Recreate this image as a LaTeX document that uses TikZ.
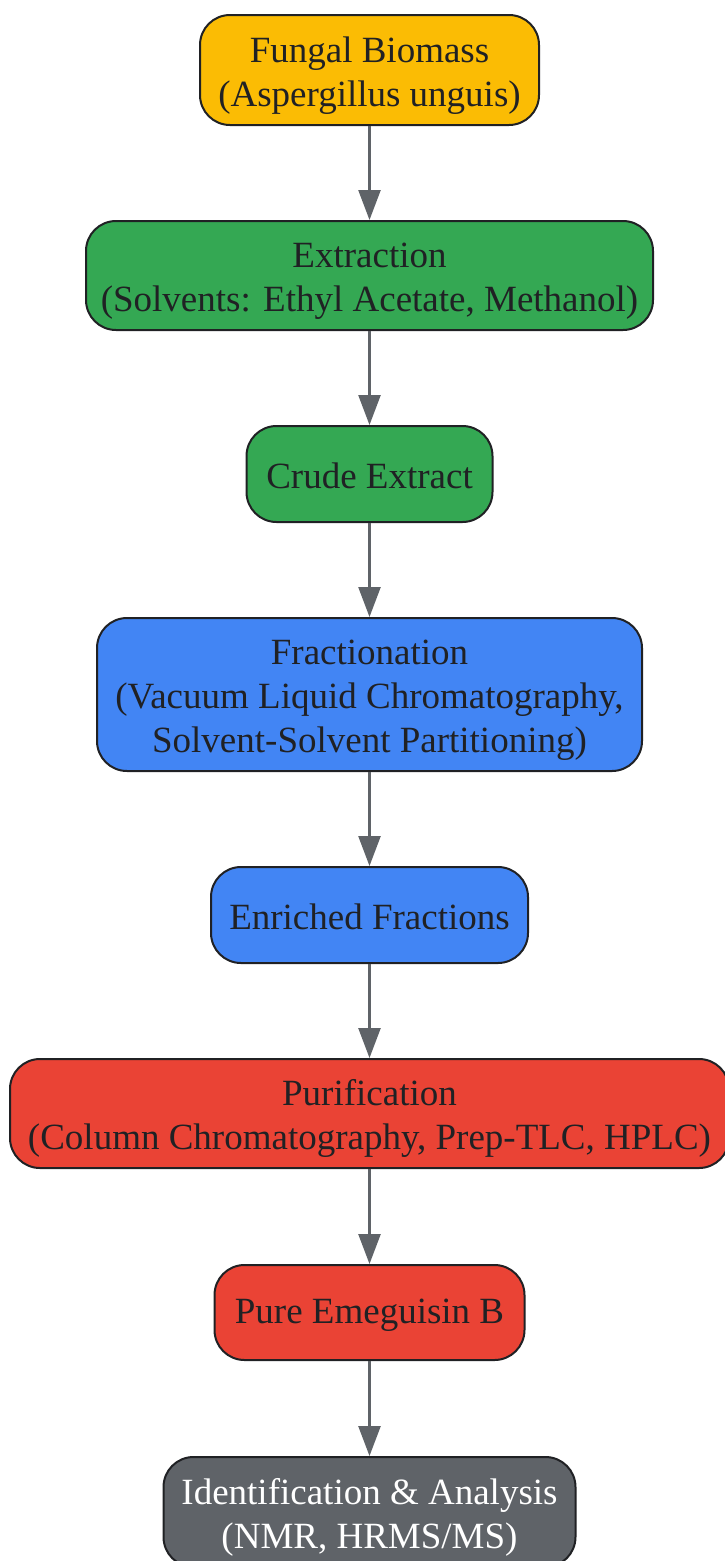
\documentclass[tikz,border=0pt]{standalone}
\usepackage{fontspec}
\setmainfont{Liberation Serif}
\usepackage{xcolor}
\usetikzlibrary{arrows.meta}
\tikzset{>={Triangle[length=30pt,width=22pt]}}
\definecolor{fgyellow}{HTML}{FBBC04}
\definecolor{fggreen}{HTML}{34A853}
\definecolor{fgblue}{HTML}{4285F4}
\definecolor{fgred}{HTML}{EA4335}
\definecolor{fggray}{HTML}{5F6368}
\definecolor{fgtext}{HTML}{202124}
\newcommand{\stagetop}{\rule{0pt}{36pt}}
\tikzset{
  stage/.style={draw=fgtext, line width=2pt, rounded corners=30pt, align=center,
    inner sep=0pt, text=fgtext, font=\fontsize{37}{44}\selectfont,
    execute at begin node={\rule{0pt}{29pt}}},
  flow/.style={->, draw=fggray, line width=2.5pt}
}

\begin{document}
\begin{tikzpicture}[x=1pt,y=-1pt]
    \useasboundingbox (0,0) rectangle (724,1561);

    \node[stage, fill=fgyellow, minimum width=339pt, minimum height=110pt] (biomass) at (369.5,70) {\stagetop Fungal Biomass\\(Aspergillus unguis)};
    \node[stage, fill=fggreen, minimum width=567pt, minimum height=109pt] (extract) at (369.5,275.5) {\stagetop Extraction\\(Solvents: Ethyl Acetate, Methanol)};
    \node[stage, fill=fggreen, minimum width=246pt, minimum height=96pt] (crude) at (369.5,474) {Crude Extract};
    \node[stage, fill=fgblue, minimum width=545pt, minimum height=153pt] (fraction) at (369.5,694.5) {\stagetop Fractionation\\(Vacuum Liquid Chromatography,\\Solvent-Solvent Partitioning)};
    \node[stage, fill=fgblue, minimum width=317pt, minimum height=96pt] (enriched) at (369.5,915) {Enriched Fractions};
    \node[stage, fill=fgred, minimum width=719pt, minimum height=109pt] (purify) at (369.5,1113.5) {\stagetop Purification\\(Column Chromatography, Prep-TLC, HPLC)};
    \node[stage, fill=fgred, minimum width=310pt, minimum height=95pt] (pure) at (369.5,1312.5) {Pure Emeguisin B};
    \node[stage, fill=fggray, text=white, minimum width=412pt, minimum height=110pt] (analysis) at (369.5,1512) {\stagetop Identification \& Analysis\\(NMR, HRMS/MS)};

    % connectors
    \foreach \a/\b in {biomass/extract, extract/crude, crude/fraction, fraction/enriched, enriched/purify, purify/pure, pure/analysis}
        \draw[flow] (\a.south) -- (\b.north);

\end{tikzpicture}
\end{document}
